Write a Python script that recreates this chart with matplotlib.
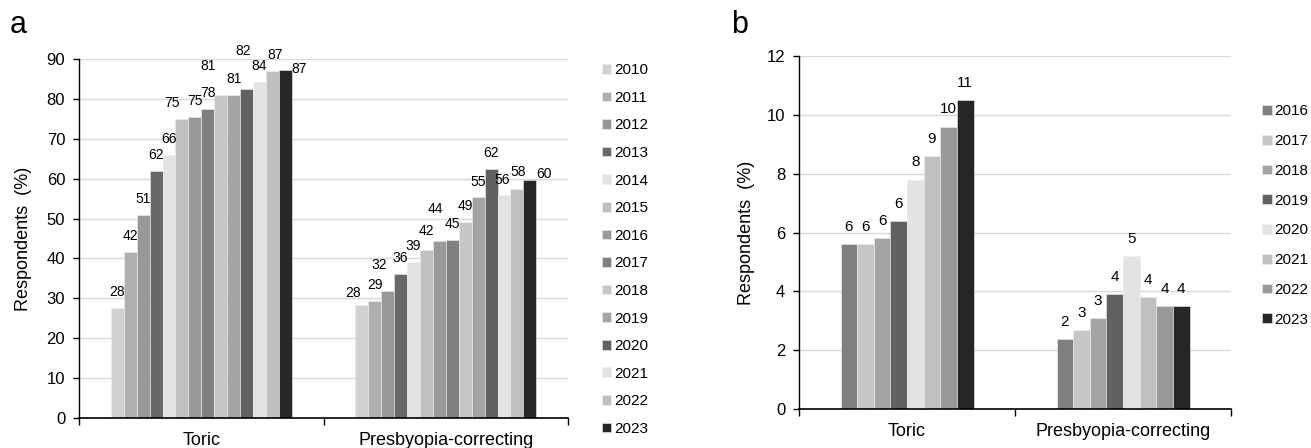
import matplotlib
matplotlib.use("Agg")
import matplotlib.pyplot as plt
import numpy as np

plt.rcParams['font.family'] = ['Liberation Sans', 'DejaVu Sans']

categories = ["Toric", "Presbyopia-correcting"]

# panel a: 2010-2023
years_a = ["2010", "2011", "2012", "2013", "2014", "2015", "2016",
           "2017", "2018", "2019", "2020", "2021", "2022", "2023"]
toric_a = [27.7, 41.7, 50.9, 61.9, 66.0, 75.1, 75.4, 77.6, 81.1, 81.0, 82.4, 84.2, 87.1, 87.4]
presby_a = [28.4, 29.4, 31.9, 36.2, 39.1, 42.2, 44.4, 44.6, 49.2, 55.3, 62.4, 56.0, 57.5, 59.8]
colors_a = ["#d0d2d2", "#adafb1", "#989898", "#686868", "#e3e3e3", "#bfc1c0", "#999999",
            "#7f7f7f", "#c6c6c6", "#a4a4a4", "#616161", "#e3e3e3", "#bfc1c0", "#262626"]

# panel b: 2016-2023
years_b = ["2016", "2017", "2018", "2019", "2020", "2021", "2022", "2023"]
toric_b = [5.6, 5.6, 5.8, 6.4, 7.8, 8.6, 9.6, 10.5]
presby_b = [2.4, 2.7, 3.1, 3.9, 5.2, 3.8, 3.5, 3.5]
colors_b = ["#7f7f7f", "#c6c6c6", "#a4a4a4", "#616161", "#e3e3e3", "#bfc1c0", "#999999", "#262626"]

# hand-placed label nudges (bar widths in x, data units in y)
nudge_a = {
    (0, 5): (-0.77, 0.0), (0, 8): (-1.0, 3.2), (0, 10): (-0.25, 5.6),
    (0, 12): (0.25, 0.0), (0, 13): (1.1, -3.9),
    (1, 0): (-0.7, -1.1), (1, 2): (-0.62, 2.5), (1, 5): (0, 0.7),
    (1, 6): (-0.34, 4.1), (1, 11): (-0.1, -0.3), (1, 12): (0.1, 0.3),
    (1, 13): (1.06, -2.5),
}


def draw_panel(ax, series, colors, years, group, ymax, ystep, lab_off, nudge, lab_fs):
    n = len(years)
    w = group / n
    x = np.arange(len(categories))
    ax.set_axisbelow(True)
    ax.yaxis.grid(True, color="#d9d9d9", linewidth=1.0)
    for i in range(n):
        vals = [s[i] for s in series]
        xs = x - group / 2 + w * (i + 0.5)
        ax.bar(xs, vals, w, color=colors[i], edgecolor="#eeeeee", linewidth=0.4,
               label=years[i], zorder=2)
        for c in range(len(categories)):
            dx, dy = nudge.get((c, i), (0, 0))
            ax.text(xs[c] + dx * w, vals[c] + lab_off + dy, "%d" % int(vals[c] + 0.5),
                    ha="center", va="center", fontsize=lab_fs, zorder=3)
    ax.set_xlim(-0.5, len(categories) - 0.5)
    ax.set_ylim(0, ymax)
    ax.set_yticks(np.arange(0, ymax + ystep / 2, ystep))
    ax.set_xticks(x)
    ax.set_xticklabels(categories, fontsize=13)
    ax.set_xticks(np.arange(-0.5, len(categories)), minor=True)
    ax.tick_params(axis="x", which="major", length=0, pad=10)
    ax.tick_params(axis="x", which="minor", length=5, width=1, direction="out")
    ax.tick_params(axis="y", labelsize=12, length=4, width=1, pad=6)
    for s in ["top", "right"]:
        ax.spines[s].set_visible(False)
    ax.spines["left"].set_linewidth(1.0)
    ax.spines["bottom"].set_linewidth(1.2)
    ax.set_ylabel("Respondents  (%)", fontsize=13)


fig = plt.figure(figsize=(13.11, 4.48), dpi=100)

ax1 = fig.add_axes([0.0603, 0.067, 0.373, 0.801])
draw_panel(ax1, [toric_a, presby_a], colors_a, years_a, 0.74, 90, 10, 4.0, nudge_a, 10)
ax1.yaxis.set_label_coords(-0.097, 0.5)
ax1.legend(loc="center left", bbox_to_anchor=(0.459, 0.443), bbox_transform=fig.transFigure,
           frameon=False, fontsize=11, handlelength=0.6, handleheight=0.6,
           handletextpad=0.2, labelspacing=0.89, borderpad=0, borderaxespad=0)

ax2 = fig.add_axes([0.6095, 0.0864, 0.3295, 0.789])
draw_panel(ax2, [toric_b, presby_b], colors_b, years_b, 0.616, 12, 2, 0.58, {}, 11)
ax2.yaxis.set_label_coords(-0.102, 0.5)
ax2.legend(loc="center left", bbox_to_anchor=(0.963, 0.519), bbox_transform=fig.transFigure,
           frameon=False, fontsize=11, handlelength=0.6, handleheight=0.6,
           handletextpad=0.2, labelspacing=1.03, borderpad=0, borderaxespad=0)

fig.text(0.0076, 0.926, "a", fontsize=22, va="baseline")
fig.text(0.558, 0.926, "b", fontsize=22, va="baseline")

fig.savefig("out.png", dpi=100)
